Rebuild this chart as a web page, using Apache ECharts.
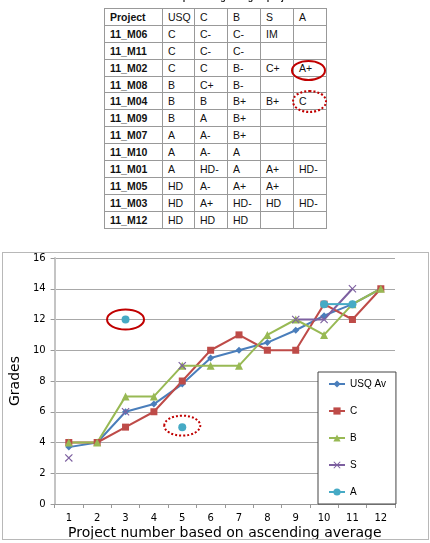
<!DOCTYPE html>
<html>
<head>
<meta charset="utf-8" />
<title>Independent grading of projects</title>
<script src="https://cdn.jsdelivr.net/npm/echarts@6.0.0/dist/echarts.min.js"></script>
<style>
	html, body { margin: 0; padding: 0; background: #fff; }
	body { width: 430px; height: 543px; position: relative; overflow: hidden; font-family: "Liberation Sans", Arial, sans-serif; }
	#chart { position: absolute; left: 0; top: 0; width: 430px; height: 543px; }
	#frame { position: absolute; left: 2px; top: 252px; width: 425px; height: 286px; border: 1px solid #b8b8b8; pointer-events: none; }
	#title { position: absolute; left: 0; width: 430px; top: -8px; text-align: center; font-size: 9px; font-weight: bold; line-height: 10px; color: #222; }
	table { position: absolute; left: 104px; top: 8px; border-collapse: collapse; font-size: 10.5px; color: #111; background: #fff; }
	td { border: 1px solid #999; height: 16.9px; padding: 0 0 0 5px; box-sizing: border-box; }
	td.p { font-weight: bold; }
	.ring { position: absolute; border: 2px solid #c00000; border-radius: 50%; box-sizing: border-box; }
</style>
</head>
<body>
<div id="chart"></div>
<div id="frame"></div>
<div id="title">Table 2: Independent grading of projects</div>
<table id="tbl"></table>
<div class="ring" style="left:291px;top:60px;width:35px;height:21px;"></div>
<div class="ring" style="left:292px;top:90px;width:35px;height:23px;border-style:dotted;"></div>

<script type="text/javascript">
	// table contents
	var tableHead = ['Project', 'USQ', 'C', 'B', 'S', 'A'];
	var tableRows = [
		['11_M06', 'C', 'C-', 'C-', 'IM', ''],
		['11_M11', 'C', 'C-', 'C-', '', ''],
		['11_M02', 'C', 'C', 'B-', 'C+', 'A+'],
		['11_M08', 'B', 'C+', 'B-', '', ''],
		['11_M04', 'B', 'B', 'B+', 'B+', 'C'],
		['11_M09', 'B', 'A', 'B+', '', ''],
		['11_M07', 'A', 'A-', 'B+', '', ''],
		['11_M10', 'A', 'A-', 'A', '', ''],
		['11_M01', 'A', 'HD-', 'A', 'A+', 'HD-'],
		['11_M05', 'HD', 'A-', 'A+', 'A+', ''],
		['11_M03', 'HD', 'A+', 'HD-', 'HD', 'HD-'],
		['11_M12', 'HD', 'HD', 'HD', '', '']
	];
	var colWidths = [58, 32, 33, 33, 33, 33];

	// chart data
	var projects = ['1', '2', '3', '4', '5', '6', '7', '8', '9', '10', '11', '12'];
	var usqAv = [3.7, 4.0, 6.0, 6.5, 7.8, 9.5, 10.0, 10.5, 11.3, 12.25, 13.0, 14.0];
	var gradeC = [4, 4, 5, 6, 8, 10, 11, 10, 10, 13, 12, 14];
	var gradeB = [4, 4, 7, 7, 9, 9, 9, 11, 12, 11, 13, 14];
	var gradeS = [3, null, 6, null, 9, null, null, null, 12, 12, 14, null];
	var gradeA = [null, null, 12, null, 5, null, null, null, null, 13, 13, null];
	var yTicks = [0, 2, 4, 6, 8, 10, 12, 14, 16];

	// build the table
	var tbl = document.getElementById('tbl');
	var html = '<tr>';
	for (var i = 0; i < tableHead.length; i++) {
		html += '<td style="width:' + colWidths[i] + 'px"' + (i == 0 ? ' class="p"' : '') + '>' + tableHead[i] + '</td>';
	}
	html += '</tr>';
	for (var r = 0; r < tableRows.length; r++) {
		html += '<tr>';
		for (var c = 0; c < tableRows[r].length; c++) {
			html += '<td' + (c == 0 ? ' class="p"' : '') + '>' + tableRows[r][c] + '</td>';
		}
		html += '</tr>';
	}
	tbl.innerHTML = html;

	var font = '"DejaVu Sans", sans-serif';
	var crossPath = 'path://M0,1L1,0L5,4L9,0L10,1L6,5L10,9L9,10L5,6L1,10L0,9L4,5Z';

	function lineSeries(name, data, color, symbol, size) {
		return {
			name: name,
			type: 'line',
			data: data,
			symbol: symbol,
			symbolSize: size,
			lineStyle: { color: color, width: 2 },
			itemStyle: { color: color },
			connectNulls: false,
			animation: false
		};
	}

	var myChart = echarts.init(document.getElementById('chart'));
	var option = {
		animation: false,
		grid: { left: 43, top: 258, right: 35, bottom: 39 },
		legend: {
			orient: 'vertical',
			left: 318,
			top: 372,
			padding: [7, 10, 7, 10],
			itemGap: 17,
			itemWidth: 16,
			itemHeight: 9,
			backgroundColor: '#fff',
			borderColor: '#444',
			borderWidth: 1,
			textStyle: { fontFamily: '"Liberation Sans", sans-serif', fontSize: 10, color: '#000' },
			data: ['USQ Av', 'C', 'B', 'S', 'A']
		},
		xAxis: {
			type: 'category',
			data: projects,
			boundaryGap: true,
			name: 'Project number based on ascending average',
			nameLocation: 'middle',
			nameGap: 22,
			nameTextStyle: { fontFamily: font, fontSize: 14, color: '#000' },
			axisLine: { lineStyle: { color: '#999', width: 1 } },
			axisTick: { show: true, length: 4, lineStyle: { color: '#999' } },
			axisLabel: { fontFamily: font, fontSize: 10, color: '#000', margin: 9 }
		},
		yAxis: {
			type: 'value',
			min: yTicks[0],
			max: yTicks[yTicks.length - 1],
			interval: 2,
			name: 'Grades',
			nameLocation: 'middle',
			nameGap: 21,
			nameRotate: 90,
			nameTextStyle: { fontFamily: font, fontSize: 14, color: '#000' },
			axisLine: { show: true, lineStyle: { color: '#c4c4c4', width: 2 } },
			axisTick: { show: true, length: 4, lineStyle: { color: '#999' } },
			axisLabel: { fontFamily: font, fontSize: 10, color: '#000', margin: 9 },
			splitLine: { lineStyle: { color: '#a8a8a8', width: 1 } }
		},
		series: [
			lineSeries('USQ Av', usqAv, '#4a7ebb', 'diamond', 7),
			lineSeries('C', gradeC, '#be4b48', 'rect', 7),
			lineSeries('B', gradeB, '#98b954', 'triangle', 8),
			lineSeries('S', gradeS, '#7d60a0', crossPath, 8),
			lineSeries('A', gradeA, '#46aac5', 'circle', 8)
		]
	};
	myChart.setOption(option);

	// annotation rings around the two highlighted A points
	var p1 = myChart.convertToPixel({ gridIndex: 0 }, [2, gradeA[2]]);
	var p2 = myChart.convertToPixel({ gridIndex: 0 }, [4, gradeA[4]]);
	myChart.setOption({
		graphic: [{
			type: 'ellipse',
			shape: { cx: p1[0], cy: p1[1], rx: 18.5, ry: 10 },
			style: { fill: null, stroke: '#c00000', lineWidth: 2 },
			z: 100
		}, {
			type: 'ellipse',
			shape: { cx: p2[0], cy: p2[1] - 1.5, rx: 18, ry: 10 },
			style: { fill: null, stroke: '#c00000', lineWidth: 2, lineDash: [2, 2] },
			z: 100
		}]
	});
</script>
</body>
</html>
